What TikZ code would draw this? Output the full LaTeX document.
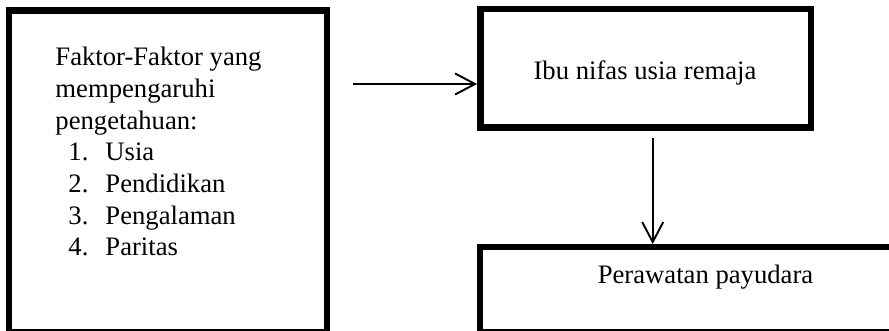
\documentclass[tikz,border=0pt]{standalone}
\usepackage{fontspec}
\setmainfont{Liberation Serif}
\usetikzlibrary{arrows.meta}
\tikzset{
  box/.style={draw=black, line width=2.9pt, rectangle, inner sep=0pt, fill=white},
  conn/.style={line width=0.85pt, -{Straight Barb[length=9pt,width=9.5pt,line width=0.85pt]}},
  lbl/.style={inner sep=0pt, font=\fontsize{12pt}{14.25pt}\selectfont}
}
\begin{document}
\begin{tikzpicture}[x=0.45pt, y=-0.45pt]
  \useasboundingbox (0,0) rectangle (889,331);
  \fill[white] (0,0) rectangle (889,331);
  \begin{scope}
    \clip (0,0) rectangle (889,331);
    \node[box, minimum width=142.9pt, minimum height=145.0pt] (left) at (168,171.4) {};
    \node[box, minimum width=148.7pt, minimum height=53.3pt] (ibu) at (645.5,68.5) {};
    \node[box, minimum width=202.4pt, minimum height=38.4pt] (per) at (705.1,289.9) {};
  \end{scope}
  \node[lbl, anchor=base west] (ltxt) at (55,66) {\begin{tabular}[t]{@{}l@{}}
    Faktor-Faktor yang\\
    mempengaruhi\\
    pengetahuan:\\
    \makebox[22.5pt][l]{\hspace{5.85pt}1.}Usia\\
    \makebox[22.5pt][l]{\hspace{5.85pt}2.}Pendidikan\\
    \makebox[22.5pt][l]{\hspace{5.85pt}3.}Pengalaman\\
    \makebox[22.5pt][l]{\hspace{5.85pt}4.}Paritas
  \end{tabular}};
  \node[lbl, anchor=base] (ibutxt) at (645,80) {Ibu nifas usia remaja};
  \node[lbl, anchor=base] (pertxt) at (705.5,284) {Perawatan payudara};
  \coordinate (a1) at (353,84);
  \coordinate (a2) at (652.7,138);
  \draw[conn] (a1) -- (a1 -| ibu.west);
  \draw[conn] (a2) -- (a2 |- per.north);
\end{tikzpicture}
\end{document}
